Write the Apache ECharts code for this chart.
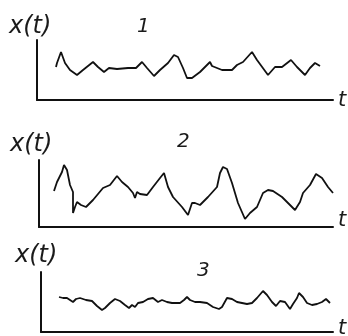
<!DOCTYPE html>
<html>
<head>
<meta charset="utf-8">
<script src="https://cdn.jsdelivr.net/npm/echarts@6/dist/echarts.min.js"></script>
<style>
  html, body { margin: 0; padding: 0; background: #fff; }
  #chart { width: 348px; height: 336px; }
</style>
</head>
<body>
<div id="chart"></div>
<script>
var chart = echarts.init(document.getElementById('chart'));

// signal 1 : [t, x(t)]
var signal1 = [[19,33],[20,37],[24,48],[28,37],[33,30],[40,25],[46,30],[56,38],[61,33],[67,28],[72,32],
  [80,31],[91,32],[93,33],[99,32],[105,38],[110,32],[117,24],[123,30],[131,37],[137,45],[141,43],
  [146,32],[150,22],[155,22],[163,28],[173,38],[175,34],[185,30],[195,30],[200,35],[206,38],[215,48],
  [220,40],[231,25],[238,33],[245,33],[254,40],[260,33],[263,30],[268,25],[273,32],[278,37],[283,34]];

// signal 2
var signal2 = [[15,36],[18,45],[23,55],[25,62],[28,57],[31,42],[34,35],[34,14],[36,20],[38,25],[40,24],
  [42,22],[47,20],[54,27],[64,39],[71,42],[78,51],[83,45],[89,40],[94,34],[96,29],[98,35],[101,33],
  [108,32],[114,40],[121,49],[125,54],[129,40],[134,30],[143,20],[149,12],[153,24],[156,24],[161,22],
  [169,30],[178,40],[181,54],[184,60],[188,58],[193,44],[199,24],[206,8],[211,14],[218,20],[224,34],
  [229,37],[234,36],[243,30],[249,24],[256,17],[261,25],[264,34],[271,42],[277,53],[283,49],[289,40],[294,34]];

// signal 3
var signal3 = [[18,35],[22,34],[26,34],[29,32],[32,30],[35,33],[39,34],[41,34],[45,32],[47,33],[51,31],
  [56,26],[61,22],[64,24],[69,29],[74,33],[79,31],[84,27],[88,24],[91,27],[94,25],[97,29],[102,30],
  [107,33],[112,34],[117,30],[121,32],[126,30],[131,29],[139,29],[143,32],[146,35],[149,32],[154,30],
  [159,30],[166,29],[172,25],[178,23],[181,25],[186,34],[191,33],[196,30],[201,29],[206,28],[211,29],
  [216,34],[222,41],[226,37],[231,30],[235,26],[239,31],[244,30],[249,23],[252,28],[256,34],[258,39],
  [262,35],[266,29],[271,27],[276,28],[281,30],[285,33],[289,29]];

var panelNames = ['1', '2', '3'];
var signals = [signal1, signal2, signal3];

// grid boxes (axis corner positions)
var boxes = [
  { left: 37, top: 40, width: 296, height: 60 },
  { left: 39, top: 160, width: 294, height: 67 },
  { left: 41, top: 272, width: 292, height: 60 }
];

var axisStyle = { show: true, onZero: false, lineStyle: { color: '#111', width: 2 } };
var font = 'DejaVu Sans';

var grids = [], xAxes = [], yAxes = [], series = [];
boxes.forEach(function (b, i) {
  grids.push({ left: b.left, top: b.top, width: b.width, height: b.height });
  xAxes.push({
    gridIndex: i, type: 'value', min: 0, max: b.width,
    axisLine: axisStyle, axisTick: { show: false }, axisLabel: { show: false }, splitLine: { show: false }
  });
  yAxes.push({
    gridIndex: i, type: 'value', min: 0, max: b.height,
    axisLine: axisStyle, axisTick: { show: false }, axisLabel: { show: false }, splitLine: { show: false }
  });
  series.push({
    type: 'line', xAxisIndex: i, yAxisIndex: i,
    data: signals[i], showSymbol: false, smooth: false,
    lineStyle: { color: '#111', width: 1.8 }
  });
});

function label(text, x, y, size) {
  return {
    type: 'text', left: x, top: y,
    style: { text: text, fill: '#1a1a1a', font: 'italic ' + size + 'px "' + font + '"' }
  };
}

var graphics = [
  label('x(t)', 9, 15, 24), label(panelNames[0], 137, 17, 20), label('t', 338, 90, 21),
  label('x(t)', 10, 133, 24), label(panelNames[1], 177, 132, 20), label('t', 338, 210, 21),
  label('x(t)', 15, 244, 24), label(panelNames[2], 197, 261, 20), label('t', 338, 318, 21)
];

chart.setOption({
  animation: false,
  grid: grids,
  xAxis: xAxes,
  yAxis: yAxes,
  series: series,
  graphic: graphics
});
</script>
</body>
</html>
